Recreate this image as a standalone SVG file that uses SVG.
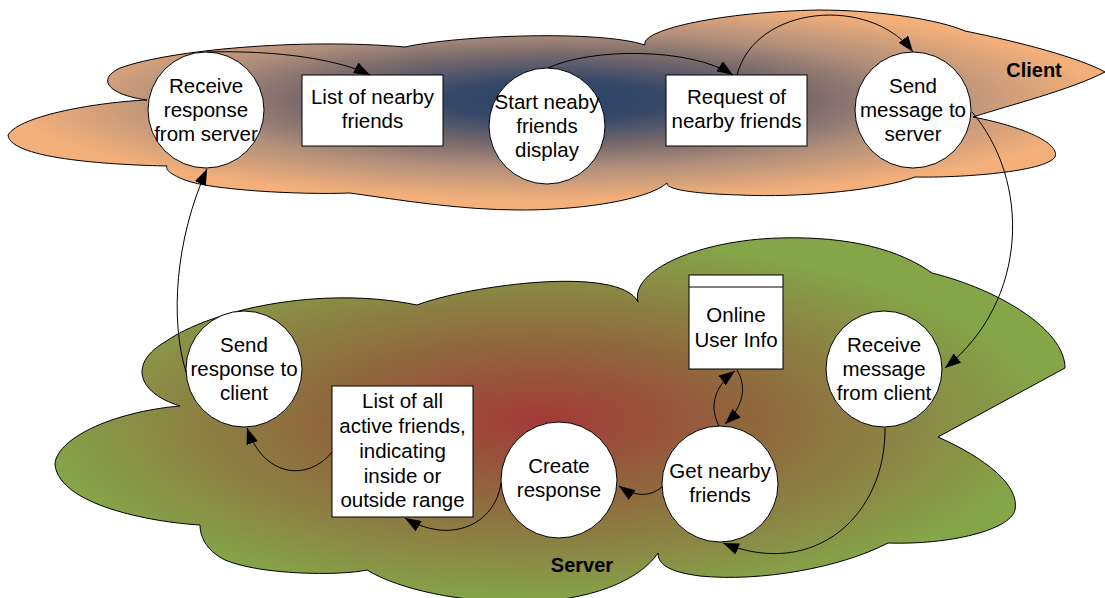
<svg xmlns="http://www.w3.org/2000/svg" width="1105" height="598" viewBox="0 0 1105 598">
  <style>
    .cloud { stroke: #000; stroke-width: 1; }
    .node { fill: #fff; stroke: #000; stroke-width: 1; }
    .lbl { font-family: "Liberation Sans", Arial, sans-serif; font-size: 20.5px; fill: #000; text-anchor: middle; }
    .title { font-family: "Liberation Sans", Arial, sans-serif; font-size: 20px; font-weight: bold; fill: #000; text-anchor: middle; }
    .conn { fill: none; stroke: #000; stroke-width: 1; marker-end: url(#arrow); }
  </style>
  <defs>
    <radialGradient id="gClient" cx="0.5" cy="0.45" r="0.5">
      <stop offset="0" stop-color="#2b4367"/>
      <stop offset="0.2" stop-color="#354868"/>
      <stop offset="0.47" stop-color="#7b6b6c"/>
      <stop offset="0.68" stop-color="#b18f7b"/>
      <stop offset="1" stop-color="#f4b07a"/>
    </radialGradient>
    <radialGradient id="gServer" cx="0.48" cy="0.5" r="0.5">
      <stop offset="0" stop-color="#a43a38"/>
      <stop offset="0.15" stop-color="#9c4a3a"/>
      <stop offset="0.45" stop-color="#8f6a3e"/>
      <stop offset="0.78" stop-color="#8a8c45"/>
      <stop offset="1" stop-color="#84a548"/>
    </radialGradient>
    <marker id="arrow" markerUnits="userSpaceOnUse" markerWidth="16" markerHeight="12" refX="16" refY="6" orient="auto">
      <path d="M0,0 L16,6 L0,12 Z" fill="#000"/>
    </marker>
  </defs>

  <g id="client-cloud">
    <path class="cloud" fill="url(#gClient)" d="M8,135 C20,115 100,102 147,100 C110,95 95,80 120,68 C170,50 300,38 405,47 C460,35 600,30 645,45 C640,30 720,12 818,10 C880,10 940,20 965,31 C1020,42 1080,58 1105,72 C1070,90 1010,105 973,117 C1030,128 1060,145 1055,157 C1045,172 960,178 915,177 C880,190 800,198 740,195 C700,194 665,190 667,183 C650,198 590,210 520,210 C460,210 400,200 350,193 C300,195 210,190 185,180 C172,175 165,170 167,166 C120,165 10,160 8,135 Z"/>
    <text class="title" x="1034" y="77">Client</text>
  </g>

  <g id="server-cloud">
    <path class="cloud" fill="url(#gServer)" d="M55,465 C55,440 110,412 180,406 C135,392 130,362 165,342 C210,310 320,285 417,305 C470,285 620,265 638,302 C630,270 700,240 780,238 C850,236 900,250 932,273 C1000,290 1065,330 1065,368 L938,437 C985,458 1020,485 1015,510 C1010,530 950,545 888,543 C840,568 760,582 700,576 C670,572 658,565 658,553 C640,580 590,602 520,602 C460,602 400,590 367,570 C340,576 260,575 225,560 C205,550 200,535 200,525 C150,522 60,505 55,465 Z"/>
    <text class="title" x="582" y="572">Server</text>
  </g>

  <g id="n-receive-response">
    <circle class="node" cx="206" cy="110" r="58"/>
    <text class="lbl" x="206" y="93">Receive</text>
    <text class="lbl" x="206" y="117">response</text>
    <text class="lbl" x="206" y="141">from server</text>
  </g>
  <g id="n-list-nearby">
    <rect class="node" x="302" y="75" width="141" height="71"/>
    <text class="lbl" x="372.5" y="104">List of nearby</text>
    <text class="lbl" x="372.5" y="128">friends</text>
  </g>
  <g id="n-start">
    <circle class="node" cx="547" cy="126" r="58"/>
    <text class="lbl" x="547" y="109">Start neaby</text>
    <text class="lbl" x="547" y="133">friends</text>
    <text class="lbl" x="547" y="157">display</text>
  </g>
  <g id="n-request">
    <rect class="node" x="666" y="75" width="141" height="71"/>
    <text class="lbl" x="736.5" y="104">Request of</text>
    <text class="lbl" x="736.5" y="128">nearby friends</text>
  </g>
  <g id="n-send-message">
    <circle class="node" cx="913" cy="110" r="58"/>
    <text class="lbl" x="913" y="93">Send</text>
    <text class="lbl" x="913" y="117">message to</text>
    <text class="lbl" x="913" y="141">server</text>
  </g>
  <g id="n-receive-message">
    <circle class="node" cx="884" cy="369" r="58"/>
    <text class="lbl" x="884" y="352">Receive</text>
    <text class="lbl" x="884" y="376">message</text>
    <text class="lbl" x="884" y="400">from client</text>
  </g>
  <g id="n-online-user-info">
    <rect class="node" x="689" y="275" width="94" height="94"/>
    <line x1="689" y1="287" x2="783" y2="287" stroke="#000" stroke-width="1"/>
    <text class="lbl" x="736" y="322">Online</text>
    <text class="lbl" x="736" y="347">User Info</text>
  </g>
  <g id="n-get-nearby">
    <circle class="node" cx="720" cy="484" r="58"/>
    <text class="lbl" x="720" y="478">Get nearby</text>
    <text class="lbl" x="720" y="502">friends</text>
  </g>
  <g id="n-create-response">
    <circle class="node" cx="559" cy="480" r="58"/>
    <text class="lbl" x="559" y="473">Create</text>
    <text class="lbl" x="559" y="497">response</text>
  </g>
  <g id="n-list-all">
    <rect class="node" x="332" y="386" width="141" height="131"/>
    <text class="lbl" x="402.5" y="408">List of all</text>
    <text class="lbl" x="402.5" y="433">active friends,</text>
    <text class="lbl" x="402.5" y="458">indicating</text>
    <text class="lbl" x="402.5" y="483">inside or</text>
    <text class="lbl" x="402.5" y="507">outside range</text>
  </g>
  <g id="n-send-response">
    <circle class="node" cx="244" cy="369" r="58"/>
    <text class="lbl" x="244" y="352">Send</text>
    <text class="lbl" x="244" y="376">response to</text>
    <text class="lbl" x="244" y="400">client</text>
  </g>

  <g id="connectors">
    <path class="conn" d="M207,52 C280,50 340,60 370,75"/>
    <path class="conn" d="M548,68 C590,48 690,47 733,75"/>
    <path class="conn" d="M737,75 C755,5 870,-5 913,52"/>
    <path class="conn" d="M972,112 C1030,180 1030,300 945,368"/>
    <path class="conn" d="M885,428 C886,515 815,580 723,543"/>
    <path class="conn" d="M719,426 C708,405 716,385 735,371"/>
    <path class="conn" d="M737,370 C748,388 742,408 725,424"/>
    <path class="conn" d="M662,487 C650,497 635,497 619,486"/>
    <path class="conn" d="M501,483 C495,525 450,545 405,518"/>
    <path class="conn" d="M332,452 C310,480 265,480 247,428"/>
    <path class="conn" d="M186,372 C170,320 175,240 207,169"/>
  </g>
</svg>
